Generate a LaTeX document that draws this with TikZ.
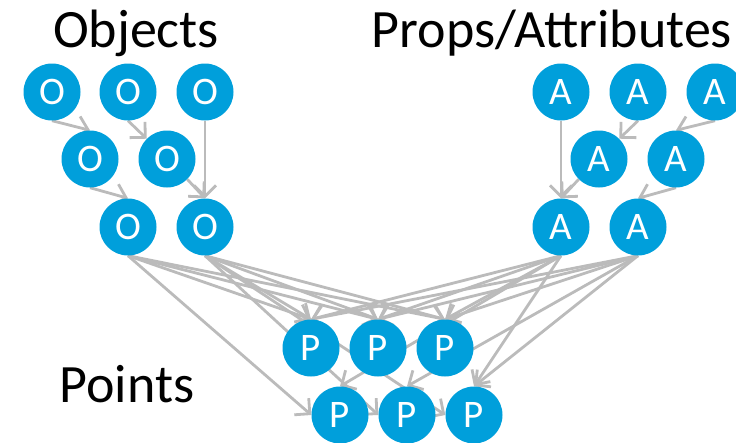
\documentclass[tikz,border=0pt]{standalone}
\usepackage{fontspec}
\setmainfont{Carlito}
\usetikzlibrary{arrows.meta,backgrounds}

\definecolor{ballblue}{RGB}{0,159,219}
\definecolor{linkgray}{RGB}{187,187,187}

\tikzset{
  ball/.style={circle,fill=ballblue,minimum size=57pt,inner sep=0pt,text=white,font=\fontsize{39}{40}\selectfont},
  heading/.style={anchor=base,inner sep=0pt,font=\fontsize{54}{60}\selectfont},
  link/.style={draw=linkgray,line width=2.8pt,-{Straight Barb[length=11pt,width=22pt,line width=2.8pt]}}
}

\begin{document}
\begin{tikzpicture}[x=1pt,y=-1pt]
\useasboundingbox (0,0) rectangle (736,442);
% headings
\node[heading] (objects) at (136,47) {Objects};
\node[heading] (props) at (552,47) {Props/Attributes};
\node[heading] (points) at (127,402) {Points};
% objects
\node[ball] (o11) at (52,92) {O};
\node[ball] (o12) at (128,92) {O};
\node[ball] (o13) at (205,92) {O};
\node[ball] (o21) at (90,159) {O};
\node[ball] (o22) at (167,159) {O};
\node[ball] (o31) at (128,227) {O};
\node[ball] (o32) at (205,227) {O};
% attributes
\node[ball] (a11) at (561,92) {A};
\node[ball] (a12) at (638,92) {A};
\node[ball] (a13) at (715,92) {A};
\node[ball] (a21) at (599,159) {A};
\node[ball] (a22) at (676,159) {A};
\node[ball] (a31) at (561,227) {A};
\node[ball] (a32) at (638,227) {A};
% points
\node[ball] (p11) at (311,348) {P};
\node[ball] (p12) at (378,348) {P};
\node[ball] (p13) at (445,348) {P};
\node[ball] (p21) at (340,415) {P};
\node[ball] (p22) at (407,415) {P};
\node[ball] (p23) at (474,415) {P};

\begin{pgfonlayer}{background}
% objects
\draw[link] (o11.south) -- (o21.north);
\draw[link] (o12.south) -- (o22.north west);
\draw[link] (o13.south) -- (o32.north);
\draw[link] (o21.south) -- (o31.north);
\draw[link] (o22.south east) -- (o32.north);
% attributes
\draw[link] (a11.south) -- (a31.north);
\draw[link] (a12.south) -- (a21.north east);
\draw[link] (a13.south) -- (a22.north);
\draw[link] (a21.south west) -- (a31.north);
\draw[link] (a22.south) -- (a32.north);
% into the points
\foreach \src in {o31,o32,a31,a32}
  \foreach \dst in {p11,p12,p13}
    \draw[link] (\src.south) -- (\dst.north);
\draw[link] (o31.south) -- (p21.west);
\draw[link] (o32.south) -- (p22.west);
\draw[link] (o32.south) -- (p23.west);
\draw[link] (a31.south) -- (p21.north);
\draw[link] (a32.south) -- (p22.north);
\draw[link] (a31.south) -- (p23.north);
\draw[link] (a32.south) -- (p23.north);
\end{pgfonlayer}
\end{tikzpicture}
\end{document}
